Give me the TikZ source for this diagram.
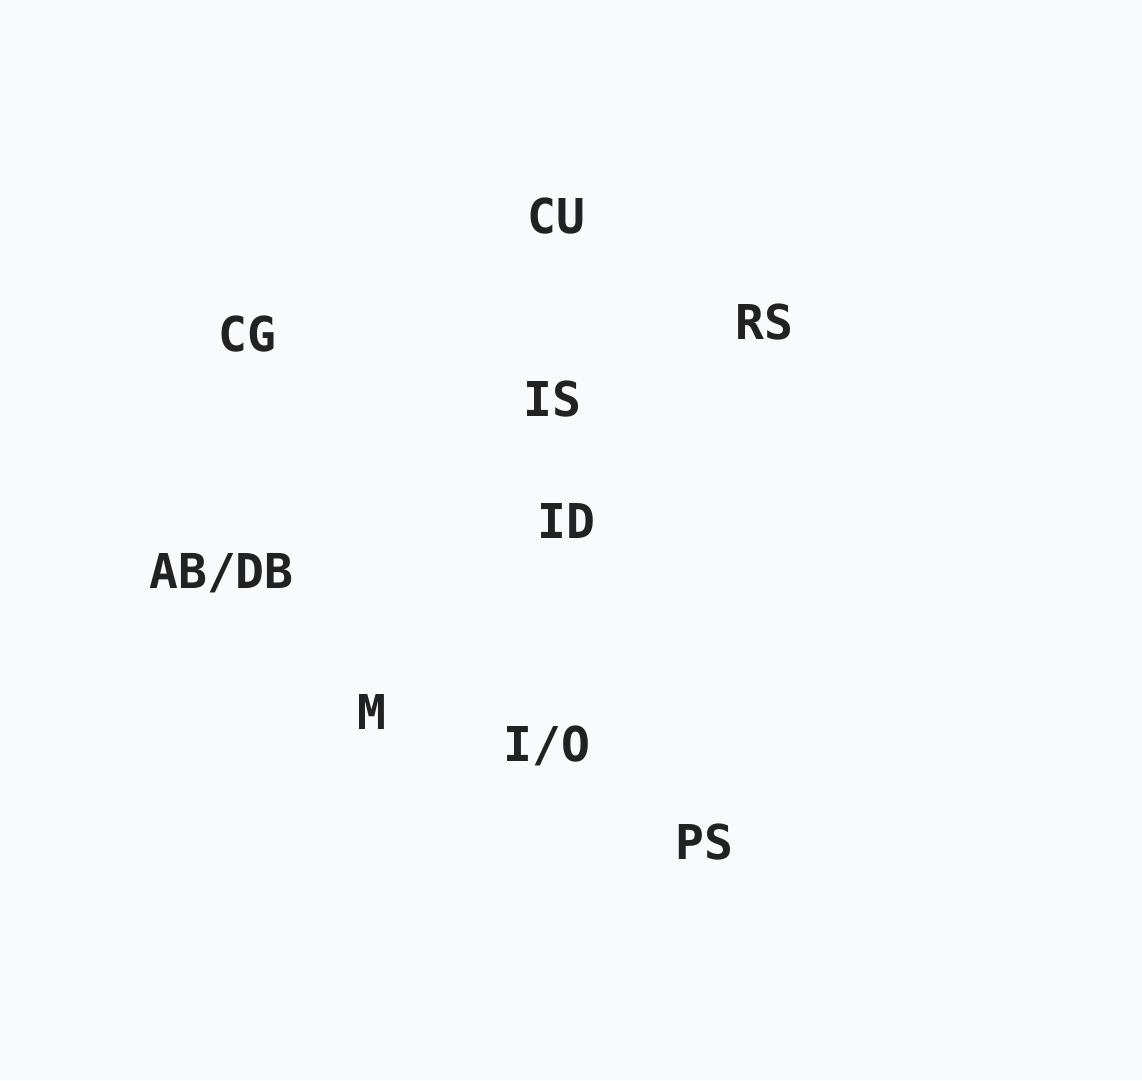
\documentclass[tikz,border=0pt]{standalone}
\usepackage{fontspec}
\setmonofont{DejaVu Sans Mono}
\definecolor{bgpaper}{HTML}{F8FAFC}
\definecolor{labelink}{HTML}{222222}
\tikzset{
    unit/.style={anchor=base, inner sep=0pt, text=labelink,
        font=\ttfamily\bfseries\fontsize{48}{58}\selectfont}
}

\begin{document}
\begin{tikzpicture}[x=1pt,y=-1pt]
    % Background and page size
    \fill[bgpaper] (0,0) rectangle (1142,1080);
    \useasboundingbox (0,0) rectangle (1142,1080);

    % Units
    \node[unit] (cu) at (556,233) {CU};
    \node[unit] (cg) at (247.5,351) {CG};
    \node[unit] (rs) at (764,339) {RS};
    \node[unit] (is) at (552,416) {IS};
    \node[unit] (id) at (566.5,538) {ID};
    \node[unit] (abdb) at (221.5,588) {AB/DB};
    \node[unit] (m) at (371.5,729) {M};
    \node[unit] (io) at (547,761) {I/O};
    \node[unit] (ps) at (704.5,859) {PS};
\end{tikzpicture}
\end{document}
